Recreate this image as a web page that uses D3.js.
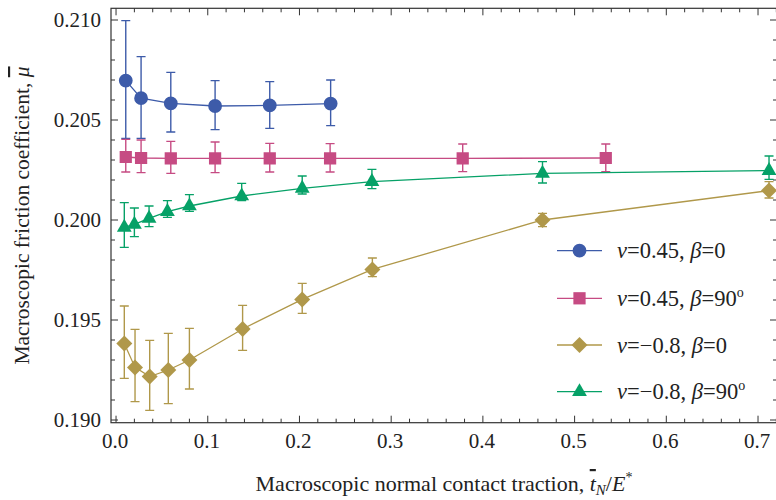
<!DOCTYPE html>
<html>
  <head>
    <meta charset="utf-8">
    <style type="text/css">
      body { margin: 0; background: #fff; }
      text { font-family: "Liberation Serif", "DejaVu Serif", serif; fill: #222; }
      .frame line, .frame rect { stroke: #333; }
    </style>
  </head>
  <body>
    <div id="chart"></div>
    <script src="https://d3js.org/d3.v7.min.js"></script>
    <script>
      // values
      const xMajor = [0.0, 0.1, 0.2, 0.3, 0.4, 0.5, 0.6, 0.7];
      const xLabels = ["0.0", "0.1", "0.2", "0.3", "0.4", "0.5", "0.6", "0.7"];
      const yMajor = [0.190, 0.195, 0.200, 0.205, 0.210];
      const yLabels = ["0.190", "0.195", "0.200", "0.205", "0.210"];

      const blueX = [0.0106, 0.0273, 0.0597, 0.108, 0.1676, 0.234];
      const blueY = [0.20697, 0.20609, 0.20583, 0.2057, 0.20573, 0.20582];
      const blueHi = [0.20997, 0.20817, 0.20738, 0.20697, 0.20692, 0.2070];
      const blueLo = [0.20408, 0.20408, 0.2044, 0.20452, 0.20458, 0.20472];

      const pinkX = [0.0106, 0.0273, 0.0597, 0.108, 0.1676, 0.2334, 0.378, 0.534];
      const pinkY = [0.20315, 0.2031, 0.20308, 0.20308, 0.20308, 0.20308, 0.20308, 0.2031];
      const pinkHi = [0.20403, 0.2040, 0.20393, 0.2039, 0.20383, 0.20382, 0.2038, 0.2038];
      const pinkLo = [0.2024, 0.20237, 0.20233, 0.20237, 0.2024, 0.2024, 0.20242, 0.20242];

      const goldX = [0.009, 0.0207, 0.0367, 0.057, 0.080, 0.138, 0.203, 0.2795, 0.465, 0.712];
      const goldY = [0.19383, 0.19263, 0.19217, 0.1925, 0.193, 0.19455, 0.19603, 0.19753, 0.2000, 0.20147];
      const goldHi = [0.1957, 0.19453, 0.19398, 0.19433, 0.19458, 0.19573, 0.19683, 0.1981, 0.20033, 0.20192];
      const goldLo = [0.19208, 0.19092, 0.19048, 0.19082, 0.19155, 0.19348, 0.19533, 0.19717, 0.19967, 0.2011];

      const greenX = [0.009, 0.020, 0.036, 0.056, 0.080, 0.137, 0.203, 0.279, 0.465, 0.712];
      const greenY = [0.19963, 0.19978, 0.20008, 0.20042, 0.2007, 0.2012, 0.20158, 0.20192, 0.20233, 0.20247];
      const greenHi = [0.20087, 0.2006, 0.2007, 0.20097, 0.20127, 0.20183, 0.2022, 0.20253, 0.20292, 0.2032];
      const greenLo = [0.19863, 0.19917, 0.19967, 0.20013, 0.20043, 0.20097, 0.2013, 0.20157, 0.20185, 0.20203];

      // square turned 45 degrees, as in the reference
      const symbolRhomb = {
        draw(ctx, size) {
          const r = Math.sqrt(size / 2);
          ctx.moveTo(0, -r);
          ctx.lineTo(r, 0);
          ctx.lineTo(0, r);
          ctx.lineTo(-r, 0);
          ctx.closePath();
        }
      };

      const series = [
        {nu: "0.45", beta: "0", color: "#3d5ba9", symbol: d3.symbolCircle, size: 150, xs: blueX, ys: blueY, hi: blueHi, lo: blueLo},
        {nu: "0.45", beta: "90", color: "#c64b83", symbol: d3.symbolSquare, size: 150, xs: pinkX, ys: pinkY, hi: pinkHi, lo: pinkLo},
        {nu: "\u22120.8", beta: "0", color: "#b0984a", symbol: symbolRhomb, size: 128, xs: goldX, ys: goldY, hi: goldHi, lo: goldLo},
        {nu: "\u22120.8", beta: "90", color: "#06a167", symbol: d3.symbolTriangle, size: 95, xs: greenX, ys: greenY, hi: greenHi, lo: greenLo}
      ];

      const W = 776, H = 500;
      const mLeft = 111, mRight = 777, mTop = 8.3, mBottom = 422.7;

      const x = d3.scaleLinear().domain([-0.0055, 0.7207]).range([mLeft, mRight]);
      const y = d3.scaleLinear().domain([0.189865, 0.210585]).range([mBottom, mTop]);

      const svg = d3.select("#chart").append("svg")
        .attr("width", W)
        .attr("height", H);

      svg.append("clipPath").attr("id", "clip")
        .append("rect").attr("x", mLeft).attr("y", mTop).attr("width", mRight - mLeft).attr("height", mBottom - mTop);
      const plot = svg.append("g").attr("clip-path", "url(#clip)");

      // frame and inward ticks
      const frame = svg.append("g").attr("class", "frame");
      frame.append("rect")
        .attr("x", mLeft).attr("y", mTop)
        .attr("width", mRight - mLeft).attr("height", mBottom - mTop)
        .attr("fill", "none").attr("stroke-width", 1.2);

      const xMinor = d3.range(0, 0.721, 0.02);
      const yMinor = d3.range(0.190, 0.2105, 0.001);

      const isMajor = (v, list) => list.some((m) => Math.abs(m - v) < 1e-6);

      frame.selectAll(".xt").data(xMinor).enter().append("line")
        .attr("x1", (d) => x(d)).attr("x2", (d) => x(d))
        .attr("y1", mBottom).attr("y2", (d) => mBottom - (isMajor(d, xMajor) ? 7 : 4))
        .attr("stroke-width", 1);
      frame.selectAll(".xtt").data(xMinor).enter().append("line")
        .attr("x1", (d) => x(d)).attr("x2", (d) => x(d))
        .attr("y1", mTop).attr("y2", (d) => mTop + (isMajor(d, xMajor) ? 7 : 4))
        .attr("stroke-width", 1);
      frame.selectAll(".yt").data(yMinor).enter().append("line")
        .attr("y1", (d) => y(d)).attr("y2", (d) => y(d))
        .attr("x1", mLeft).attr("x2", (d) => mLeft + (isMajor(d, yMajor) ? 7 : 4))
        .attr("stroke-width", 1);
      frame.selectAll(".ytr").data(yMinor).enter().append("line")
        .attr("y1", (d) => y(d)).attr("y2", (d) => y(d))
        .attr("x1", mRight).attr("x2", (d) => mRight - (isMajor(d, yMajor) ? 7 : 4))
        .attr("stroke-width", 1);

      svg.selectAll(".xl").data(xMajor).enter().append("text")
        .attr("x", (d) => x(d) - 1).attr("y", 448)
        .attr("text-anchor", "middle")
        .style("font-size", "21px")
        .text((d, i) => xLabels[i]);
      svg.selectAll(".yl").data(yMajor).enter().append("text")
        .attr("x", 101).attr("y", (d) => y(d) + 7)
        .attr("text-anchor", "end")
        .style("font-size", "21px")
        .text((d, i) => yLabels[i]);

      // axis titles, centred on the frame
      const xt = svg.append("text")
        .attr("x", (mLeft + mRight) / 2).attr("y", 491)
        .attr("text-anchor", "middle")
        .style("font-size", "22px");
      xt.append("tspan").text("Macroscopic normal contact traction, ");
      xt.append("tspan").style("font-style", "italic").style("text-decoration", "overline").text("t");
      xt.append("tspan").style("font-style", "italic").style("font-size", "15px").attr("dy", 4).text("N");
      xt.append("tspan").attr("dy", -4).text("/");
      xt.append("tspan").style("font-style", "italic").text("E");
      xt.append("tspan").style("font-size", "14px").attr("dy", -9).text("*");

      const yt = svg.append("text")
        .attr("transform", `translate(29,${(mTop + mBottom) / 2}) rotate(-90)`)
        .attr("text-anchor", "middle")
        .style("font-size", "21.5px");
      yt.append("tspan").text("Macroscopic friction coefficient, ");
      yt.append("tspan").style("font-style", "italic").style("text-decoration", "overline").text("\u03bc");

      // series
      const line = d3.line().x((d) => x(d[0])).y((d) => y(d[1]));
      series.forEach((s) => {
        const pts = s.xs.map((v, i) => ({x: v, y: s.ys[i], hi: s.hi[i], lo: s.lo[i]}));
        const g = plot.append("g");
        g.selectAll(".eb").data(pts).enter().append("path")
          .attr("d", (d) => `M${x(d.x)},${y(d.lo)}V${y(d.hi)}M${x(d.x) - 4.5},${y(d.hi)}H${x(d.x) + 4.5}M${x(d.x) - 4.5},${y(d.lo)}H${x(d.x) + 4.5}`)
          .attr("stroke", s.color).attr("stroke-width", 1.4).attr("fill", "none");
        g.append("path")
          .attr("d", line(pts.map((d) => [d.x, d.y])))
          .attr("stroke", s.color).attr("stroke-width", 1.3).attr("fill", "none");
        g.selectAll(".m").data(pts).enter().append("path")
          .attr("transform", (d) => `translate(${x(d.x)},${y(d.y)})`)
          .attr("d", d3.symbol().type(s.symbol).size(s.size))
          .attr("fill", s.color);
      });

      // legend
      const legY = [250.7, 298.3, 345, 391.7];
      const leg = svg.append("g");
      series.forEach((s, i) => {
        const row = leg.append("g").attr("transform", `translate(0,${legY[i]})`);
        row.append("line").attr("x1", 557).attr("x2", 602).attr("y1", 0).attr("y2", 0)
          .attr("stroke", s.color).attr("stroke-width", 1.3);
        row.append("path").attr("transform", "translate(579.5,0)")
          .attr("d", d3.symbol().type(s.symbol).size(s.size)).attr("fill", s.color);
        const t = row.append("text").attr("x", 617).attr("y", 7.5).style("font-size", "22.5px");
        t.append("tspan").style("font-style", "italic").text("\u03bd");
        t.append("tspan").text("=" + s.nu + ", ");
        t.append("tspan").style("font-style", "italic").text("\u03b2");
        t.append("tspan").text("=" + s.beta);
        if (s.beta !== "0") {
          t.append("tspan").style("font-size", "14px").attr("dy", -9).text("o");
        }
      });
    </script>
  </body>
</html>
